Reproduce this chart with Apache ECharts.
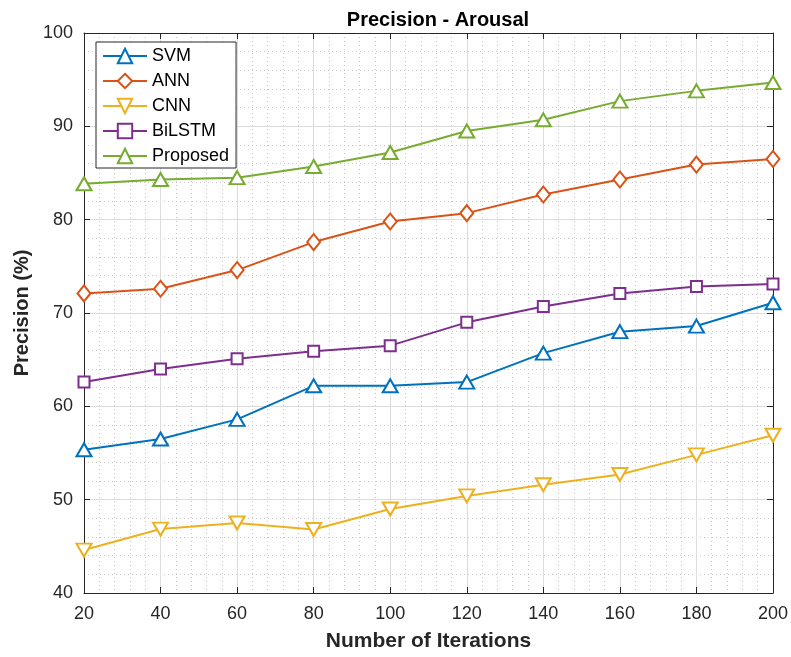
<!DOCTYPE html>
<html><head><meta charset="utf-8">
<script src="https://cdn.jsdelivr.net/npm/echarts@6/dist/echarts.min.js"></script>
<style>html,body{margin:0;padding:0;background:#fff}#c{width:791px;height:657px}</style>
</head><body><div id="c"></div>
<script>
const iterations = [20, 40, 60, 80, 100, 120, 140, 160, 180, 200];
const svm      = [55.35, 56.5, 58.6, 62.2, 62.2, 62.6, 65.7, 68.0, 68.6, 71.1];
const ann      = [72.1, 72.6, 74.6, 77.6, 79.8, 80.7, 82.7, 84.3, 85.9, 86.5];
const cnn      = [44.6, 46.85, 47.5, 46.8, 49.0, 50.4, 51.6, 52.7, 54.8, 56.9];
const bilstm   = [62.6, 64.0, 65.1, 65.9, 66.5, 69.0, 70.7, 72.1, 72.85, 73.1];
const proposed = [83.85, 84.3, 84.5, 85.7, 87.2, 89.5, 90.7, 92.7, 93.8, 94.7];
const seriesNames = ['SVM', 'ANN', 'CNN', 'BiLSTM', 'Proposed'];

const colors = ['#0072BD', '#D95319', '#EDB120', '#7E2F8E', '#77AC30'];
const symbols = ['triangle', 'diamond', 'triangle', 'rect', 'triangle'];
const rot = [0, 0, 180, 0, 0];
const sizes = [[15, 13], [13, 16], [15, 13], [11, 11], [15, 13]];
const dataSets = [svm, ann, cnn, bilstm, proposed];

const FONT = '"Liberation Sans", Arial, Helvetica, sans-serif';
const txt = '#262626';
const chart = echarts.init(document.getElementById('c'));
const axisCommon = {
  axisLine: { show: true, onZero: false, lineStyle: { color: txt, width: 1 } },
  axisTick: { show: true, inside: true, length: 6, lineStyle: { color: txt } },
  splitLine: { show: true, lineStyle: { color: '#dcdcdc', width: 1 } },
  minorTick: { show: false, splitNumber: 5 },
  minorSplitLine: { show: true, lineStyle: { color: '#c8c8c8', type: [1, 3], width: 1 } }
};
chart.setOption({
  backgroundColor: '#fff',
  animation: false,
  title: { text: 'Precision - Arousal', left: 433, top: 5, textAlign: 'center',
    textStyle: { fontFamily: FONT, fontSize: 20, fontWeight: 'bold', color: '#000' } },
  legend: {
    data: seriesNames, orient: 'vertical', left: 96, top: 42,
    backgroundColor: '#fff', borderColor: txt, borderWidth: 1,
    padding: [5, 7, 3, 6], itemGap: 7, itemWidth: 44, itemHeight: 18,
    textStyle: { fontFamily: FONT, fontSize: 18, lineHeight: 18, color: '#000' }
  },
  grid: { left: 84, right: 18, top: 33, bottom: 64, containLabel: false },
  xAxis: [Object.assign({}, axisCommon, {
    type: 'value', min: 20, max: 200, interval: 20, position: 'bottom',
    name: 'Number of Iterations', nameLocation: 'middle', nameGap: 38,
    nameTextStyle: { fontFamily: FONT, fontSize: 21, fontWeight: 'bold', color: txt },
    axisLabel: { fontFamily: FONT, fontSize: 18, color: txt, margin: 12 }
  }), {
    type: 'value', min: 20, max: 200, interval: 20, position: 'top',
    axisLine: { show: true, onZero: false, lineStyle: { color: txt } },
    axisTick: { show: true, inside: true, length: 6, lineStyle: { color: txt } },
    axisLabel: { show: false }, splitLine: { show: false }
  }],
  yAxis: [Object.assign({}, axisCommon, {
    type: 'value', min: 40, max: 100, interval: 10, position: 'left',
    name: 'Precision (%)', nameLocation: 'middle', nameGap: 48,
    nameTextStyle: { fontFamily: FONT, fontSize: 20, fontWeight: 'bold', color: txt },
    axisLabel: { fontFamily: FONT, fontSize: 18, color: txt, margin: 11 }
  }), {
    type: 'value', min: 40, max: 100, interval: 10, position: 'right',
    axisLine: { show: true, onZero: false, lineStyle: { color: txt } },
    axisTick: { show: true, inside: true, length: 6, lineStyle: { color: txt } },
    axisLabel: { show: false }, splitLine: { show: false }
  }],
  series: seriesNames.map((n, i) => ({
    name: n, type: 'line', xAxisIndex: 0, yAxisIndex: 0,
    data: iterations.map((x, j) => [x, dataSets[i][j]]),
    symbol: symbols[i], symbolRotate: rot[i], symbolSize: sizes[i], showAllSymbol: true,
    lineStyle: { color: colors[i], width: 2 },
    itemStyle: { color: '#fff', borderColor: colors[i], borderWidth: 2 },
    z: 3 + i
  }))
});
</script></body></html>
